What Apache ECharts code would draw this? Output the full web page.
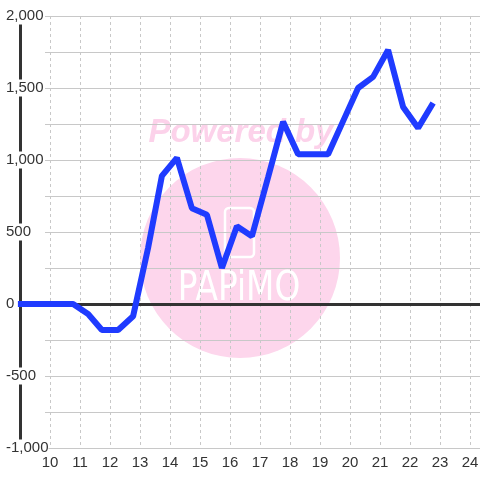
<!DOCTYPE html>
<html>
<head>
<meta charset="utf-8">
<script src="https://cdn.jsdelivr.net/npm/echarts@6/dist/echarts.min.js"></script>
<style>
  html, body { margin: 0; padding: 0; background: #fff; }
  #chart { width: 480px; height: 480px; }
</style>
</head>
<body>
<div id="chart"></div>
<script>
// hour of day (x) and value (y)
const hours = [8.93, 10.77, 11.27, 11.73, 12.27, 12.77, 13.27, 13.73, 14.23, 14.73, 15.23, 15.73, 16.23,
  16.73, 17.27, 17.77, 18.27, 18.77, 19.27, 19.77, 20.27, 20.77, 21.27, 21.77, 22.27, 22.77]
const values = [0, 0, -70, -180, -180, -85, 390, 890, 1015, 665, 620, 250, 540,
  470, 880, 1265, 1040, 1040, 1040, 1270, 1500, 1577, 1764, 1368, 1222, 1396]

const xMin = 9
const xMax = 24.333
const yMin = -1000
const yMax = 2000

const chart = echarts.init(document.getElementById('chart'))

const labelFont = { fontFamily: 'Liberation Sans, Arial, sans-serif', fontSize: 15, color: '#333' }

const option = {
  animation: false,
  grid: [
    // main grid: axis lines, labels, series
    { left: 20, right: 0, top: 16, bottom: 32, outerBoundsMode: 'none', containLabel: false },
    // horizontal split lines start a bit further right
    { left: 45, right: 0, top: 16, bottom: 32, outerBoundsMode: 'none', containLabel: false }
  ],
  graphic: [
    { type: 'circle', z: -10, silent: true, shape: { cx: 240, cy: 258, r: 100 }, style: { fill: '#fdd6ec' } },
    {
      type: 'text', z: -10, silent: true, x: 241, y: 133,
      style: {
        text: 'Powered by', fill: '#fcd2ea', align: 'center', verticalAlign: 'middle',
        font: 'italic bold 33px "Liberation Sans", Arial, sans-serif'
      }
    },
    {
      type: 'rect', z: -9, silent: true,
      shape: { x: 225, y: 208, width: 29, height: 49, r: 4 },
      style: { fill: 'none', stroke: '#fff', lineWidth: 2.5 }
    },
    {
      type: 'text', z: -9, silent: true, x: 239, y: 289, scaleX: 0.8,
      style: {
        text: 'PAPiMO', fill: '#fff', align: 'center', verticalAlign: 'middle',
        font: '41px "DejaVu Sans", sans-serif'
      }
    }
  ],
  xAxis: [
    {
      gridIndex: 0, type: 'value', min: xMin, max: xMax, interval: 1, position: 'bottom',
      axisLine: { show: true, onZero: true, lineStyle: { color: '#333', width: 3 } },
      axisTick: { show: false },
      axisLabel: { show: false },
      splitLine: { show: false }
    },
    {
      gridIndex: 0, type: 'value', min: xMin, max: xMax, interval: 1, position: 'bottom',
      axisLine: { show: false, onZero: false },
      axisTick: { show: false },
      axisLabel: { ...labelFont, margin: 7, formatter: v => (v === xMin ? '' : String(v)) },
      splitLine: { show: true, lineStyle: { color: '#c8c8c8', type: [3, 3], width: 1 } }
    },
    {
      gridIndex: 1, type: 'value', min: 0, max: 1, show: false
    }
  ],
  yAxis: [
    {
      gridIndex: 0, type: 'value', min: yMin, max: yMax, interval: 250,
      axisLine: { show: true, onZero: false, lineStyle: { color: '#333', width: 3 } },
      axisTick: { show: false },
      axisLabel: {
        ...labelFont, margin: 14, align: 'left', backgroundColor: '#fff', padding: [1, 0],
        formatter: v => (v % 500 === 0 ? v.toLocaleString('en-US') : '')
      },
      splitLine: { show: false }
    },
    {
      gridIndex: 1, type: 'value', min: yMin, max: yMax, interval: 250,
      axisLine: { show: false }, axisTick: { show: false }, axisLabel: { show: false },
      splitLine: { show: true, lineStyle: { color: '#c8c8c8', width: 1 } }
    }
  ],
  series: [{
    type: 'line',
    xAxisIndex: 0,
    yAxisIndex: 0,
    clip: false,
    symbol: 'none',
    z: 5,
    data: hours.map((h, i) => [h, values[i]]),
    lineStyle: { color: '#1f3bff', width: 6 }
  }]
}

chart.setOption(option)
</script>
</body>
</html>
